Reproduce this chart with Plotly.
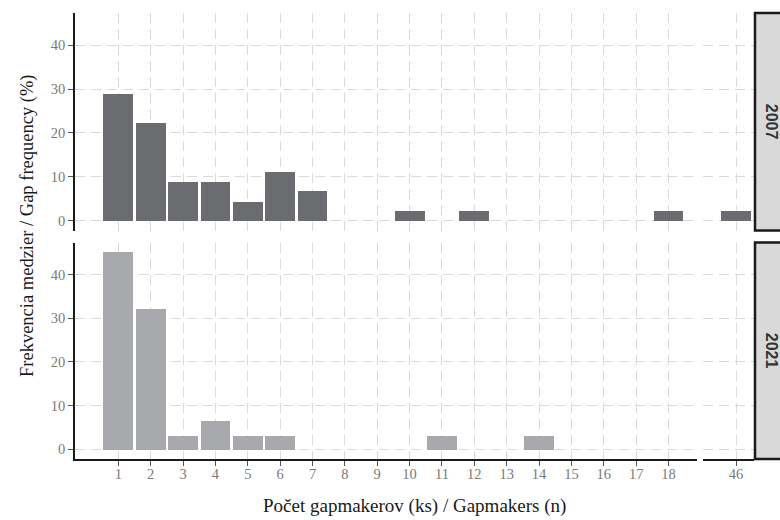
import plotly.graph_objects as go

# ---- data ----
gapmakers = [1, 2, 3, 4, 5, 6, 7, 8, 9, 10, 11, 12, 13, 14, 15, 16, 17, 18, 46]
freq_2007 = [28.9, 22.2, 8.9, 8.9, 4.4, 11.1, 6.7, 0, 0, 2.2, 0, 2.2, 0, 0, 0, 0, 0, 2.2, 2.2]
freq_2021 = [45.2, 32.3, 3.2, 6.5, 3.2, 3.2, 0, 0, 0, 0, 3.2, 0, 0, 3.2, 0, 0, 0, 0, 0]
years = ["2007", "2021"]
y_ticks = [0, 10, 20, 30, 40]

col_2007 = "#6b6c70"
col_2021 = "#a8a9ad"
grid_col = "#d9d9d9"
tick_col = "#7a7a7a"
serif = "Liberation Serif, Times New Roman, DejaVu Serif, serif"

W, H = 780, 520
ml, mr, mt, mb = 75, 26, 13, 61
pw, ph = W - ml - mr, H - mt - mb

def px_x(p):
    return (p - ml) / pw

def px_y(p):
    return (H - mb - p) / ph

break_pos = 18.5
left_dom = [0, px_x(696.7)]
right_dom = [px_x(702.7), 1]
top_dom = [px_y(230.5), 1]
bot_dom = [0, px_y(242.5)]

x_left_range = [-0.338, 18.87]
x_right_range = [44.97, 46.556]
y_range = [-2.2, 47.3]

fig = go.Figure()

def split(vals):
    lx, ly, rx, ry = [], [], [], []
    for g, v in zip(gapmakers, vals):
        if v == 0:
            continue
        if g < break_pos:
            lx.append(g); ly.append(v)
        else:
            rx.append(g); ry.append(v)
    return lx, ly, rx, ry

for vals, col, (xa_l, xa_r, ya) in [
    (freq_2007, col_2007, ("x", "x2", "y")),
    (freq_2021, col_2021, ("x3", "x4", "y2")),
]:
    lx, ly, rx, ry = split(vals)
    fig.add_trace(go.Bar(x=lx, y=ly, width=0.92, marker=dict(color=col, line=dict(width=0)),
                         xaxis=xa_l, yaxis=ya, showlegend=False))
    fig.add_trace(go.Bar(x=rx, y=ry, width=0.92, marker=dict(color=col, line=dict(width=0)),
                         xaxis=xa_r, yaxis=ya, showlegend=False))

tick_font = dict(family=serif, size=14.5, color=tick_col)
grid_dash = "10px,6px"
common_x = dict(showgrid=True, gridcolor=grid_col, gridwidth=1.4, griddash=grid_dash,
                zeroline=False, tickmode="array", tickfont=tick_font)

left_ticks = [g for g in gapmakers if g < break_pos]
right_ticks = [g for g in gapmakers if g > break_pos]

fig.update_layout(
    width=W, height=H,
    margin=dict(l=ml, r=mr, t=mt, b=mb),
    paper_bgcolor="white", plot_bgcolor="white",
    bargap=0,
    font=dict(family=serif),
    xaxis=dict(domain=left_dom, range=x_left_range, anchor="y", tickvals=left_ticks,
               showticklabels=False, showline=False, ticks="", **common_x),
    xaxis2=dict(domain=right_dom, range=x_right_range, anchor="y", tickvals=right_ticks,
                showticklabels=False, showline=False, ticks="", **common_x),
    xaxis3=dict(domain=left_dom, range=x_left_range, anchor="y2", tickvals=left_ticks,
                ticktext=[str(t) for t in left_ticks], ticklabelstandoff=-4,
                showline=True, linecolor="#1a1a1a", linewidth=1.8,
                ticks="outside", ticklen=5, tickcolor="#555", tickwidth=1, **common_x),
    xaxis4=dict(domain=right_dom, range=x_right_range, anchor="y2", tickvals=right_ticks,
                ticktext=[str(t) for t in right_ticks], ticklabelstandoff=-4,
                showline=True, linecolor="#1a1a1a", linewidth=1.8,
                ticks="outside", ticklen=5, tickcolor="#555", tickwidth=1, **common_x),
    yaxis=dict(domain=top_dom, range=y_range, anchor="x", tickvals=y_ticks,
               showgrid=True, gridcolor=grid_col, gridwidth=1.4, griddash=grid_dash,
               zeroline=False, showline=True, linecolor="#1a1a1a", linewidth=1.8,
               ticks="outside", ticklen=5, tickcolor="#555", tickfont=tick_font),
    yaxis2=dict(domain=bot_dom, range=y_range, anchor="x3", tickvals=y_ticks,
                showgrid=True, gridcolor=grid_col, gridwidth=1.4, griddash=grid_dash,
                zeroline=False, showline=True, linecolor="#1a1a1a", linewidth=1.8,
                ticks="outside", ticklen=5, tickcolor="#555", tickfont=tick_font),
)

# facet strips
shapes = []
annotations = []
for yr, dom in zip(years, [top_dom, bot_dom]):
    shapes.append(dict(type="rect", xref="paper", yref="paper",
                       x0=px_x(755), x1=px_x(800), y0=dom[0], y1=dom[1],
                       fillcolor="#d9d9d9", line=dict(color="#1a1a1a", width=2.5), layer="above"))
    annotations.append(dict(text="<b>" + yr + "</b>", xref="paper", yref="paper",
                            x=px_x(771), y=(dom[0] + dom[1]) / 2, showarrow=False,
                            textangle=90, font=dict(family="Liberation Sans, Arial, sans-serif",
                                                    size=16, color="#333333"),
                            xanchor="center", yanchor="middle"))

annotations.append(dict(text="Počet gapmakerov (ks) / Gapmakers (n)", xref="paper", yref="paper",
                        x=0.5, y=px_y(506), showarrow=False, xanchor="center", yanchor="middle",
                        font=dict(family=serif, size=19, color="#1a1a1a")))
annotations.append(dict(text="Frekvencia medzier / Gap frequency (%)", xref="paper", yref="paper",
                        x=px_x(27), y=px_y(226), showarrow=False, xanchor="center", yanchor="middle",
                        textangle=-90, font=dict(family=serif, size=18.5, color="#1a1a1a")))

fig.update_layout(shapes=shapes, annotations=annotations)

fig.write_html("out.html")
